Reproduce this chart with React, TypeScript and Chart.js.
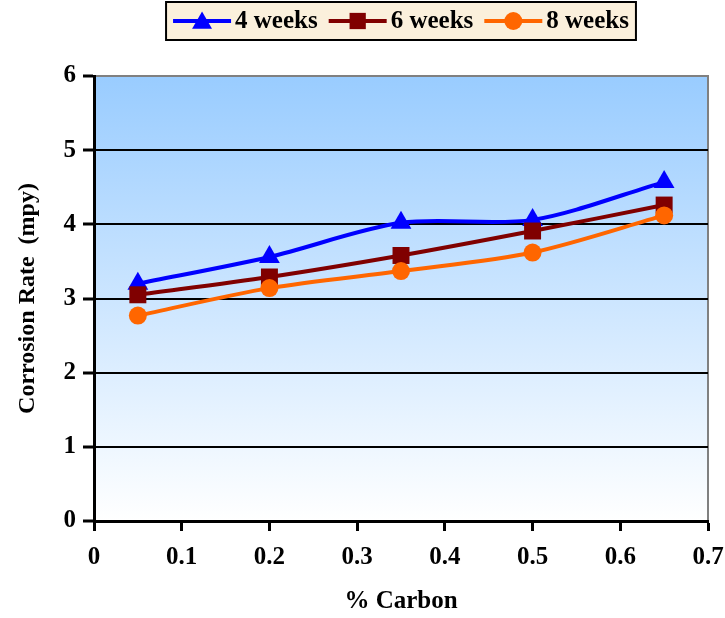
import React, { useEffect, useRef } from "react";
import { Chart, registerables } from "chart.js";

Chart.register(...registerables);

const carbon = [0.05, 0.2, 0.35, 0.5, 0.65];
const weeks4 = [3.2, 3.56, 4.02, 4.06, 4.57];
const weeks6 = [3.05, 3.29, 3.58, 3.91, 4.26];
const weeks8 = [2.77, 3.14, 3.37, 3.62, 4.12];
const seriesLabels = ["4 weeks", "6 weeks", "8 weeks"];
const xTicks = [0, 0.1, 0.2, 0.3, 0.4, 0.5, 0.6, 0.7];
const yTicks = [0, 1, 2, 3, 4, 5, 6];

const FONT = "'Liberation Serif', 'Times New Roman', serif";

function drawMarker(ctx: CanvasRenderingContext2D, style: string, x: number, y: number, r: number, color: string) {
  ctx.save();
  ctx.fillStyle = color;
  ctx.beginPath();
  if (style === "triangle") {
    for (let i = 0; i < 3; i++) {
      const a = -Math.PI / 2 + (i * 2 * Math.PI) / 3;
      const px = x + r * Math.cos(a);
      const py = y + r * Math.sin(a);
      if (i === 0) ctx.moveTo(px, py);
      else ctx.lineTo(px, py);
    }
    ctx.closePath();
  } else if (style === "rect") {
    const s = r * Math.SQRT1_2;
    ctx.rect(x - s, y - s, 2 * s, 2 * s);
  } else {
    ctx.arc(x, y, r, 0, Math.PI * 2);
  }
  ctx.fill();
  ctx.restore();
}

const backgroundPlugin = {
  id: "plotBackground",
  beforeDraw(chart: any) {
    const { ctx, chartArea } = chart;
    if (!chartArea) return;
    const { left, right, top, bottom } = chartArea;
    ctx.save();
    const g = ctx.createLinearGradient(0, top, 0, bottom);
    g.addColorStop(0, "#99CCFF");
    g.addColorStop(1, "#FFFFFF");
    ctx.fillStyle = g;
    ctx.fillRect(left, top, right - left, bottom - top);
    ctx.strokeStyle = "#808080";
    ctx.lineWidth = 2;
    ctx.beginPath();
    ctx.moveTo(left, top);
    ctx.lineTo(right, top);
    ctx.lineTo(right, bottom);
    ctx.stroke();
    ctx.restore();
  },
};

const legendBoxPlugin = {
  id: "legendBox",
  afterDraw(chart: any) {
    const { ctx, chartArea } = chart;
    const datasets = chart.data.datasets;
    ctx.save();
    ctx.font = `bold 25px ${FONT}`;
    const lineLen = 58;
    const gapText = 4;
    const gapItem = 11;
    const pad = 7;
    const widths = datasets.map((d: any) => ctx.measureText(d.label).width);
    let total = pad * 2 + gapItem * (datasets.length - 1);
    widths.forEach((w: number) => (total += lineLen + gapText + w));
    const cx = (chartArea.left + chartArea.right) / 2;
    const x0 = cx - total / 2;
    const y0 = 2;
    const h = 38;
    ctx.fillStyle = "#FBF0DC";
    ctx.fillRect(x0, y0, total, h);
    ctx.strokeStyle = "#000000";
    ctx.lineWidth = 2;
    ctx.strokeRect(x0, y0, total, h);
    const cy = y0 + h / 2;
    let x = x0 + pad;
    datasets.forEach((d: any, i: number) => {
      ctx.strokeStyle = d.borderColor;
      ctx.lineWidth = 4;
      ctx.beginPath();
      ctx.moveTo(x, cy);
      ctx.lineTo(x + lineLen, cy);
      ctx.stroke();
      drawMarker(ctx, d.pointStyle, x + lineLen / 2, cy + (d.pointStyle === "triangle" ? 2 : 0), d.pointStyle === "circle" ? 9 : 11.5, d.borderColor);
      ctx.fillStyle = "#000000";
      ctx.textBaseline = "middle";
      ctx.textAlign = "left";
      ctx.fillText(d.label, x + lineLen + gapText, cy + 1);
      x += lineLen + gapText + widths[i] + gapItem;
    });
    ctx.restore();
  },
};

function toPoints(ys: number[]) {
  return carbon.map((c, i) => ({ x: c, y: ys[i] }));
}

export default function App() {
  const canvasRef = useRef<HTMLCanvasElement | null>(null);

  useEffect(() => {
    if (!canvasRef.current) return;
    const colors = ["#0000FF", "#800000", "#FF6600"];
    const styles = ["triangle", "rect", "circle"];
    const radii = [12, 12, 9];
    const series = [weeks4, weeks6, weeks8];
    const chart = new Chart(canvasRef.current, {
      type: "line",
      data: {
        datasets: series.map((s, i) => ({
          label: seriesLabels[i],
          data: toPoints(s),
          borderColor: colors[i],
          backgroundColor: colors[i],
          pointBackgroundColor: colors[i],
          pointBorderColor: colors[i],
          pointBorderWidth: 0,
          pointStyle: styles[i],
          pointRadius: radii[i],
          pointHoverRadius: radii[i],
          borderWidth: 4,
          tension: 0.3,
          fill: false,
          order: 3 - i,
        })),
      },
      options: {
        animation: false,
        responsive: false,
        maintainAspectRatio: false,
        layout: { padding: { top: 76, right: 17, left: 0, bottom: 0 } },
        plugins: {
          legend: { display: false },
          tooltip: { enabled: false },
        },
        scales: {
          x: {
            type: "linear",
            min: 0,
            max: 0.7,
            afterFit: (scale: any) => {
              scale.height = 97;
              scale.paddingLeft = 0;
              scale.paddingRight = 0;
            },
            afterBuildTicks: (scale: any) => {
              scale.ticks = xTicks.map((v) => ({ value: v }));
            },
            ticks: {
              color: "#000000",
              font: { family: FONT, size: 25, weight: "bold" },
              padding: 12,
              maxRotation: 0,
              autoSkip: false,
              callback: (v: any) => String(Math.round(Number(v) * 10) / 10),
            },
            grid: {
              drawOnChartArea: false,
              drawTicks: true,
              tickLength: 10,
              tickColor: "#000000",
              tickWidth: 3,
            },
            border: { display: true, color: "#000000", width: 3 },
            title: {
              display: true,
              text: "% Carbon",
              color: "#000000",
              font: { family: FONT, size: 25, weight: "bold" },
              padding: 1,
            },
          },
          y: {
            type: "linear",
            min: 0,
            max: 6,
            afterFit: (scale: any) => {
              scale.width = 94;
              scale.paddingTop = 0;
              scale.paddingBottom = 0;
            },
            afterBuildTicks: (scale: any) => {
              scale.ticks = yTicks.map((v) => ({ value: v }));
            },
            ticks: {
              color: "#000000",
              font: { family: FONT, size: 25, weight: "bold" },
              padding: 7,
              callback: (v: any) => String(v),
            },
            grid: {
              drawOnChartArea: true,
              drawTicks: true,
              tickLength: 11,
              color: (c: any) => (c.tick && c.tick.value === 6 ? "rgba(0,0,0,0)" : "#000000"),
              lineWidth: 2,
              tickColor: "#000000",
              tickWidth: 3,
            },
            border: { display: true, color: "#000000", width: 3 },
            title: {
              display: true,
              text: "Corrosion Rate  (mpy)",
              color: "#000000",
              font: { family: FONT, size: 24, weight: "bold" },
              padding: 13,
            },
          },
        },
      } as any,
      plugins: [backgroundPlugin, legendBoxPlugin],
    });
    return () => chart.destroy();
  }, []);

  return (
    <div style={{ position: "fixed", left: 0, top: 0, width: 725, height: 618, background: "#FFFFFF" }}>
      <canvas ref={canvasRef} width={725} height={618} style={{ display: "block" }} />
    </div>
  );
}
